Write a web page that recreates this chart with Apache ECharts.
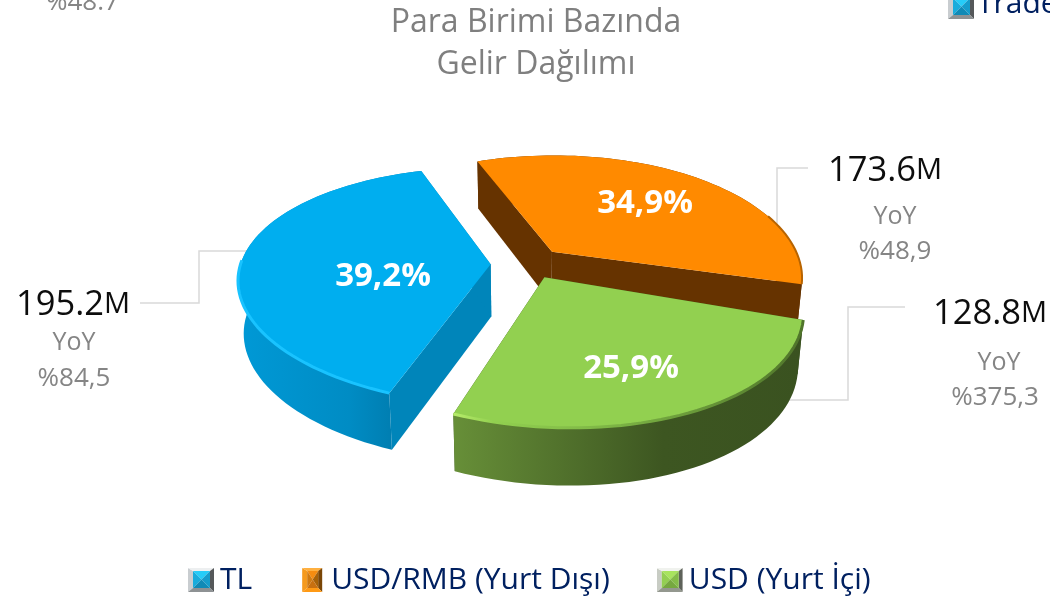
<!DOCTYPE html>
<html><head><meta charset="utf-8">
<style>html,body{margin:0;padding:0;background:#fff}#c{width:1050px;height:598px}</style>
<script src="https://cdn.jsdelivr.net/npm/echarts@6/dist/echarts.min.js"></script>
</head><body><div id="c"></div>
<script>
// ---- data ----
const categories = ['TL', 'USD/RMB (Yurt Dışı)', 'USD (Yurt İçi)'];
const revenueM = [195.2, 173.6, 128.8];
const yoyLabels = ['%84,5', '%48,9', '%375,3'];
const titleLines = ['Para Birimi Bazında', 'Gelir Dağılımı'];

// ---- layout / style ----
const FONT = '"Open Sans","Noto Sans",sans-serif';
const GRAY = '#858585';
const startAngle = 202.4;
const cam = {cx: 524, cy: 262, rx: 253, ry: 117, k: 0.193, s: 21, depth: 52, depthK: 0.09, bottomScale: 0.98};
const styles = [
  {explode: [-0.133, 0.02], radius: [0.985, 0.975], shear: [-2, 0], top: '#00AEEF', wall: '#0085BA',
   side: ['#0099D6', '#008CC4', '#0074A4'], rim: '#19C3FF', rimRange: [0, 0.5], rimW: 3,
   labelPos: [383, 277], outPos: [73, 305, 343, 379], outX2: 74, outX3: 74},
  {explode: [0.12, -0.09], radius: [0.965, 1.01], shear: [-4, -8], top: '#FF8A00', wall: '#663300',
   side: ['#663300', '#663300', '#663300'], rim: '#B86400', rimRange: [0.72, 1], rimW: 2,
   labelPos: [645, 204], outPos: [885, 171, 217, 252], outX2: 895, outX3: 895},
  {explode: [0.068, 0.128], radius: [0.96, 0.985], shear: [-4, 0], top: '#92D050', wall: '#3A5220',
   side: ['#678F38', '#3D5621', '#3A5220'], rimRange: [0, 1], rimW: 3,
   rim: new echarts.graphic.LinearGradient(0, 0, 1, 0,
     [{offset: 0, color: '#B9EE6C'}, {offset: 0.12, color: '#92D050'}, {offset: 0.45, color: '#7DB545'},
      {offset: 1, color: '#4F742A'}]),
   labelPos: [631, 369], outPos: [990, 314, 363, 398], outX2: 999, outX3: 995}
];
const leaders = [
  [[140,303],[199,303],[199,251],[250,251]],
  [[808,168],[777,168],[777,240]],
  [[905,307],[848,307],[848,400],[775,400]]
];

const total = revenueM.reduce((a, b) => a + b, 0);
function arcPt(st, deg, low) {
  const t = deg * Math.PI / 180;
  const dx = Math.sin(t), dy = -Math.cos(t);
  const u = st.explode[0] + st.radius[0] * dx, v = st.explode[1] + st.radius[1] * dy;
  return project(u, v, low, st.shear[0] * dy, st.shear[1] * dx);
}
function project(u, v, low, ox, oy) {
  const w = 1 - cam.k * v;
  let x = (cam.rx * u + cam.s * v) / w + (ox || 0), y = cam.ry * v / w + (oy || 0);
  if (low) { x *= cam.bottomScale; y += cam.depth / (1 - cam.depthK * v); }
  return [cam.cx + x, cam.cy + y];
}
function arc(st, a0, a1, low) {
  const n = Math.max(8, Math.ceil((a1 - a0) / 2)), pts = [];
  for (let i = 0; i <= n; i++) pts.push(arcPt(st, a0 + (a1 - a0) * i / n, low));
  return pts;
}
function hGrad(c) {
  return new echarts.graphic.LinearGradient(0, 0, 1, 0,
    [{offset: 0, color: c[0]}, {offset: 0.6, color: c[1]}, {offset: 1, color: c[2]}]);
}
function poly(points, fill, z) {
  return {type: 'polygon', z2: z, shape: {points}, style: {fill, stroke: null}};
}
function pieSlice(idx) {
  return function (params, api) {
    const value = api.value(0);
    const st = styles[idx];
    let before = 0;
    for (let i = 0; i < idx; i++) before += revenueM[i];
    const a0 = startAngle + before / total * 360, a1 = a0 + value / total * 360;
    const apexT = project(st.explode[0], st.explode[1], false), apexB = project(st.explode[0], st.explode[1], true);
    const startT = arcPt(st, a0, false), startB = arcPt(st, a0, true);
    const endT = arcPt(st, a1, false), endB = arcPt(st, a1, true);
    const topArc = arc(st, a0, a1, false), lowArc = arc(st, a0, a1, true);
    const rimArc = topArc.slice(Math.floor(topArc.length * st.rimRange[0]), Math.ceil(topArc.length * st.rimRange[1]));
    const pct = (value / total * 100).toFixed(1).replace('.', ',') + '%';
    const o = st.outPos;
    const children = [
      poly([apexT, startT, startB, apexB], st.wall, 1),
      poly([apexT, endT, endB, apexB], st.wall, 1),
      poly(topArc.concat(lowArc.slice().reverse()), hGrad(st.side), 2),
      poly([apexT].concat(topArc), st.top, 3),
      {type: 'polyline', z2: 4, shape: {points: rimArc},
       style: {fill: null, stroke: st.rim, lineWidth: st.rimW}},
      {type: 'text', z2: 5, style: {x: st.labelPos[0], y: st.labelPos[1], text: pct,
        fill: '#fff', font: 'bold 33px ' + FONT, align: 'center', verticalAlign: 'middle'}},
      {type: 'text', z2: 5, style: {x: o[0], y: o[1], align: 'center', verticalAlign: 'middle',
        text: '{n|' + value.toFixed(1) + '}{m|M}',
        rich: {n: {fontSize: 34.5, fontFamily: FONT, fill: '#0D0D0D'},
               m: {fontSize: 29, fontFamily: FONT, fill: '#0D0D0D'}}}},
      {type: 'text', z2: 5, style: {x: st.outX2, y: o[2], text: 'YoY', fill: GRAY,
        font: '25px ' + FONT, align: 'center', verticalAlign: 'middle'}},
      {type: 'text', z2: 5, style: {x: st.outX3, y: o[3], text: yoyLabels[idx], fill: GRAY,
        font: '26px ' + FONT, align: 'center', verticalAlign: 'middle'}}
    ];
    return {type: 'group', children};
  };
}
function swatch(c, inset) {
  const a = inset || 0, x1 = 26 - a, y1 = 24;
  const l = a + 5, r = x1 - 4, t = 3, b = 20, mx = (l + r) / 2, my = (t + b) / 2;
  const p = (pts, f) => `<polygon points="${pts}" fill="${f}"/>`;
  const svg = `<svg xmlns="http://www.w3.org/2000/svg" width="26" height="24" viewBox="0 0 26 24">` +
    p(`${a},0 ${l},${t} ${l},${b} ${a},${y1}`, c.frameL) +
    p(`${a},0 ${x1},0 ${r},${t} ${l},${t}`, c.frameT) +
    p(`${x1},0 ${x1},${y1} ${r},${b} ${r},${t}`, c.frameR) +
    p(`${a},${y1} ${x1},${y1} ${r},${b} ${l},${b}`, c.frameB) +
    p(`${l},${t} ${r},${t} ${mx},${my}`, c.midT) +
    p(`${l},${t} ${mx},${my} ${l},${b}`, c.midL) +
    p(`${r},${t} ${mx},${my} ${r},${b}`, c.midR) +
    p(`${l},${b} ${r},${b} ${mx},${my}`, c.midB) + `</svg>`;
  return 'image://data:image/svg+xml;charset=utf-8,' + encodeURIComponent(svg);
}
const swatches = [
  swatch({frameL: '#C9CDD0', frameT: '#EDEFF0', frameR: '#55585A', frameB: '#8E9294',
          midT: '#25CCF8', midL: '#18ACDC', midR: '#159CCB', midB: '#108AB6'}),
  swatch({frameL: '#F59A1E', frameT: '#FFB040', frameR: '#7A4606', frameB: '#FF9A15',
          midT: '#F58C10', midL: '#D07A10', midR: '#A86208', midB: '#C87010'}, 3),
  swatch({frameL: '#C8CCC4', frameT: '#F0F2EE', frameR: '#5E625A', frameB: '#94988F',
          midT: '#A8E45E', midL: '#94CF52', midR: '#84BC48', midB: '#76A83F'})
];

const chart = echarts.init(document.getElementById('c'), null, {renderer: 'canvas'});
chart.setOption({
  animation: false,
  backgroundColor: '#fff',
  title: {
    text: titleLines.join('\n'), left: 531, top: -3, textAlign: 'center',
    textStyle: {color: '#7F7F7F', fontSize: 32, fontWeight: 'normal', fontFamily: FONT, lineHeight: 42}
  },
  legend: {
    left: 183, top: 560, itemWidth: 26, itemGap: 47, itemHeight: 24,
    selectedMode: false,
    textStyle: {color: '#002060', fontSize: 30, fontFamily: FONT, padding: [0, 0, 0, 1]},
    data: categories.map((name, i) => ({name, icon: swatches[i]}))
  },
  graphic: [
    ...leaders.map(points => ({type: 'polyline', z: 0, silent: true, shape: {points},
      style: {fill: null, stroke: '#D9D9D9', lineWidth: 1.5}})),
    {type: 'text', left: 46, top: -10, style: {text: '%48.7', fill: GRAY, font: '26px ' + FONT}},
    {type: 'image', left: 948, top: -5, style: {image: swatches[0].slice(8), width: 26, height: 24}},
    {type: 'text', left: 977, top: -11, style: {text: 'Trade', fill: '#002060', font: '30px ' + FONT}}
  ],
  series: categories.map((name, i) => ({
    type: 'custom', name, coordinateSystem: 'none', clip: false,
    renderItem: pieSlice(i),
    z: i === 0 ? 3 : i === 1 ? 2 : 4,
    data: [[revenueM[i]]]
  }))
});
</script></body></html>
